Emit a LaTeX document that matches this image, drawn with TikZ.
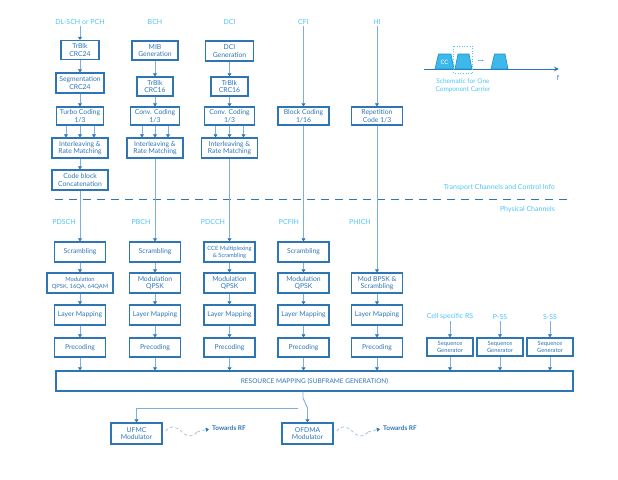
\documentclass[tikz,border=0pt]{standalone}
\usepackage{fontspec}
\setmainfont{Lato}
\usetikzlibrary{arrows.meta,calc}
\definecolor{boxc}{HTML}{2E75B6}
\definecolor{lblc}{HTML}{4FC3F7}
\definecolor{linec}{HTML}{7DAEDD}
\definecolor{wavec}{HTML}{A8C4E0}
\definecolor{ccfill}{HTML}{3DB8EA}
\definecolor{ccdraw}{HTML}{1F8FC8}
\begin{document}
\begin{tikzpicture}[x=1pt,y=-1pt,
  box/.style={draw=boxc, line width=1.1pt, text=boxc, align=center, inner sep=0pt,
              font=\fontsize{6.8}{7.4}\selectfont},
  smallbox/.style={box, font=\fontsize{5.8}{6.8}\selectfont},
  lbl/.style={text=lblc, font=\fontsize{7}{8}\selectfont, inner sep=1pt},
  conn/.style={draw=linec, line width=0.9pt, -{Triangle[width=4pt,length=3.2pt,color=boxc]}},
  plain/.style={draw=linec, line width=0.9pt},
  wave/.style={draw=wavec, line width=0.8pt, dash pattern=on 3pt off 2.5pt},
  rftxt/.style={text=boxc, font=\fontsize{6.5}{7}\selectfont\bfseries, anchor=west, inner sep=1pt}
]
\useasboundingbox (0,0) rectangle (618,479);

% ---------- top labels ----------
\node[lbl] (l1) at (80,22) {DL-SCH or PCH};
\node[lbl] (l2) at (155,22) {BCH};
\node[lbl] (l3) at (229.5,22) {DCI};
\node[lbl] (l4) at (303.5,22) {CFI};
\node[lbl] (l5) at (377,22) {HI};

% ---------- column 1 ----------
\node[box,minimum width=38pt,minimum height=19pt] (tb1) at (80,50) {TrBlk\\CRC24};
\node[box,minimum width=48pt,minimum height=20pt] (seg) at (80,83) {Segmentation\\CRC24};
\node[box,minimum width=47pt,minimum height=18pt] (tc) at (80,116) {Turbo Coding\\1/3};
\node[box,minimum width=56pt,minimum height=20pt] (il1) at (80,148) {Interleaving \&\\Rate Matching};
\node[box,minimum width=56pt,minimum height=20pt] (cb) at (80,180) {Code block\\Concatenation};

% ---------- column 2 ----------
\node[box,minimum width=46pt,minimum height=19pt] (mib) at (155,50.5) {MIB\\Generation};
\node[box,minimum width=36pt,minimum height=19pt] (tb2) at (155,86.5) {TrBlk\\CRC16};
\node[box,minimum width=49pt,minimum height=18pt] (cc2) at (155,116) {Conv. Coding\\1/3};
\node[box,minimum width=56pt,minimum height=20pt] (il2) at (155,148) {Interleaving \&\\Rate Matching};

% ---------- column 3 ----------
\node[box,minimum width=48pt,minimum height=20pt] (dci) at (229.5,51) {DCI\\Generation};
\node[box,minimum width=37pt,minimum height=19pt] (tb3) at (229.5,86.5) {TrBlk\\CRC16};
\node[box,minimum width=50pt,minimum height=18pt] (cc3) at (229.5,116) {Conv. Coding\\1/3};
\node[box,minimum width=56pt,minimum height=20pt] (il3) at (229.5,148) {Interleaving \&\\Rate Matching};

% ---------- columns 4, 5 ----------
\node[box,minimum width=51pt,minimum height=18pt] (bc) at (303.5,116) {Block Coding\\1/16};
\node[box,minimum width=51pt,minimum height=18pt] (rep) at (377,116) {Repetition\\Code 1/3};

% ---------- separator ----------
\draw[boxc, line width=1pt, dash pattern=on 8pt off 6pt] (55,199) -- (573,199);
\node[lbl, anchor=east] (tcl) at (556,188) {Transport Channels and Control Info};
\node[lbl, anchor=east] (pcl) at (556,210) {Physical Channels};

% ---------- physical labels ----------
\node[lbl] (p1) at (64,222) {PDSCH};
\node[lbl] (p2) at (141,222) {PBCH};
\node[lbl] (p3) at (213,222) {PDCCH};
\node[lbl] (p4) at (289,222) {PCFIH};
\node[lbl] (p5) at (360,222) {PHICH};

% ---------- physical column 1 ----------
\node[box,minimum width=51pt,minimum height=20pt] (scr1) at (80,252) {Scrambling};
\node[smallbox,minimum width=66pt,minimum height=20pt] (mod1) at (80,283) {Modulation\\QPSK, 16QA, 64QAM};
\node[box,minimum width=51pt,minimum height=20pt] (lm1) at (80,315) {Layer Mapping};
\node[box,minimum width=51pt,minimum height=19pt] (pc1) at (80,347.5) {Precoding};
% column 2
\node[box,minimum width=51pt,minimum height=20pt] (scr2) at (155,252) {Scrambling};
\node[box,minimum width=51pt,minimum height=20pt] (mod2) at (155,283) {Modulation\\QPSK};
\node[box,minimum width=51pt,minimum height=20pt] (lm2) at (155,315) {Layer Mapping};
\node[box,minimum width=51pt,minimum height=19pt] (pc2) at (155,347.5) {Precoding};
% column 3
\node[smallbox,minimum width=51pt,minimum height=20pt] (cce) at (229.5,252) {CCE Multiplexing\\\& Scrambling};
\node[box,minimum width=51pt,minimum height=20pt] (mod3) at (229.5,283) {Modulation\\QPSK};
\node[box,minimum width=51pt,minimum height=20pt] (lm3) at (229.5,315) {Layer Mapping};
\node[box,minimum width=51pt,minimum height=19pt] (pc3) at (229.5,347.5) {Precoding};
% column 4
\node[box,minimum width=51pt,minimum height=20pt] (scr4) at (303.5,252) {Scrambling};
\node[box,minimum width=51pt,minimum height=20pt] (mod4) at (303.5,283) {Modulation\\QPSK};
\node[box,minimum width=51pt,minimum height=20pt] (lm4) at (303.5,315) {Layer Mapping};
\node[box,minimum width=51pt,minimum height=19pt] (pc4) at (303.5,347.5) {Precoding};
% column 5
\node[box,minimum width=51pt,minimum height=20pt] (mod5) at (377,283) {Mod BPSK \&\\Scrambling};
\node[box,minimum width=51pt,minimum height=20pt] (lm5) at (377,315) {Layer Mapping};
\node[box,minimum width=51pt,minimum height=19pt] (pc5) at (377,347.5) {Precoding};

% ---------- sequence generators ----------
\node[lbl] (rs1) at (450,317) {Cell specific RS};
\node[lbl] (rs2) at (500,317) {P-SS};
\node[lbl] (rs3) at (550,317) {S-SS};
\node[smallbox,minimum width=46pt,minimum height=18pt] (sg1) at (450,347) {Sequence\\Generator};
\node[smallbox,minimum width=46pt,minimum height=18pt] (sg2) at (500,347) {Sequence\\Generator};
\node[smallbox,minimum width=46pt,minimum height=18pt] (sg3) at (550,347) {Sequence\\Generator};

% ---------- resource mapping ----------
\node[box,minimum width=517pt,minimum height=20pt,font=\fontsize{6.5}{7}\selectfont] (rm) at (314.5,381) {RESOURCE MAPPING (SUBFRAME GENERATION)};

% ---------- modulators ----------
\node[box,minimum width=51pt,minimum height=21pt] (ufmc) at (136.5,433.5) {UFMC\\Modulator};
\node[box,minimum width=51pt,minimum height=21pt] (ofdm) at (307.5,433.5) {OFDMA\\Modulator};

% ---------- connectors: transport ----------
\draw[conn] (l1) -- (tb1);
\draw[conn] (tb1) -- (seg);
\draw[conn] (seg) -- (tc);
\foreach \dx in {-14,0,14} \draw[conn] ([xshift=\dx pt]tc.south) -- ([xshift=\dx pt]il1.north);
\draw[conn] (il1) -- (cb);
\draw[conn] (cb) -- (scr1);

\draw[conn] (mib) -- (tb2);
\draw[conn] (tb2) -- (cc2);
\foreach \dx in {-13,0,13} \draw[conn] ([xshift=\dx pt]cc2.south) -- ([xshift=\dx pt]il2.north);
\draw[conn] (il2) -- (scr2);

\draw[conn] (dci) -- (tb3);
\draw[conn] (tb3) -- (cc3);
\foreach \dx in {-14,0,14} \draw[conn] ([xshift=\dx pt]cc3.south) -- ([xshift=\dx pt]il3.north);
\draw[conn] (il3) -- (cce);

\draw[conn] (l4) -- (bc);
\draw[conn] (bc) -- (scr4);
\draw[conn] (l5) -- (rep);
\draw[conn] (rep) -- (mod5);

% ---------- connectors: physical ----------
\foreach \a/\b in {scr1/mod1,mod1/lm1,lm1/pc1,scr2/mod2,mod2/lm2,lm2/pc2,cce/mod3,mod3/lm3,lm3/pc3,scr4/mod4,mod4/lm4,lm4/pc4,mod5/lm5,lm5/pc5}
  \draw[conn] (\a) -- (\b);
\foreach \p in {pc1,pc2,pc3,pc4,pc5,sg1,sg2,sg3}
  \draw[conn] (\p.south) -- (\p.south |- rm.north);
\draw[conn] (rs1) -- (sg1);
\draw[conn] (rs2) -- (sg2);
\draw[conn] (rs3) -- (sg3);

% ---------- switch ----------
\coordinate (swt) at (303,398);
\coordinate (swb) at (307.5,408);
\coordinate (swo) at (298,408);
\draw[plain] (rm.south -| swt) -- (swt) -- (swb);
\draw[conn] (swb) -- (ofdm.north);
\draw[conn] (swo) -- (swo -| ufmc.north) -- (ufmc.north);

% ---------- towards RF ----------
\coordinate (w1) at (166,431);
\coordinate (rf1) at (209,429);
\draw[wave] (w1) .. controls (170,425) and (175,426) .. (181,431) .. controls (186,436) and (191,439) .. (197,432);
\draw[wave, -{Triangle[width=4pt,length=3.2pt,color=boxc]}] (197,432) -- (rf1);
\node[rftxt] (trf1) at (211,428) {Towards RF};

\coordinate (w2) at (337,431);
\coordinate (rf2) at (380,429);
\draw[wave] (w2) .. controls (341,425) and (346,426) .. (352,431) .. controls (357,436) and (362,439) .. (368,432);
\draw[wave, -{Triangle[width=4pt,length=3.2pt,color=boxc]}] (368,432) -- (rf2);
\node[rftxt] (trf2) at (382,428) {Towards RF};

% ---------- schematic ----------
\draw[boxc, line width=1pt, -{Stealth[length=5pt,width=4.5pt]}] (424,69) -- (559,69);
\node[text=boxc, font=\fontsize{7}{8}\selectfont] (fl) at (558,78) {f};
\filldraw[fill=ccfill, draw=ccdraw, line width=0.6pt] (435,69) -- (438.5,54) -- (451,54) -- (454,69) -- cycle;
\filldraw[fill=ccfill, draw=ccdraw, line width=0.6pt] (455,69) -- (458,54) -- (469,54) -- (472,69) -- cycle;
\filldraw[fill=ccfill, draw=ccdraw, line width=0.6pt] (491,69) -- (494.5,54) -- (505,54) -- (508,69) -- cycle;
\draw[lblc, line width=0.6pt, dotted] (453.5,46) rectangle (472.5,73);
\node[text=white, font=\fontsize{6}{7}\selectfont] (cc) at (444.5,62) {CC};
\node[text=boxc, font=\fontsize{8}{8}\selectfont\bfseries] (dots) at (481,61) {...};
\node[lbl, align=center, font=\fontsize{6.5}{8}\selectfont] (sch) at (463,86) {Schematic for One\\Component Carrier};
\end{tikzpicture}
\end{document}
